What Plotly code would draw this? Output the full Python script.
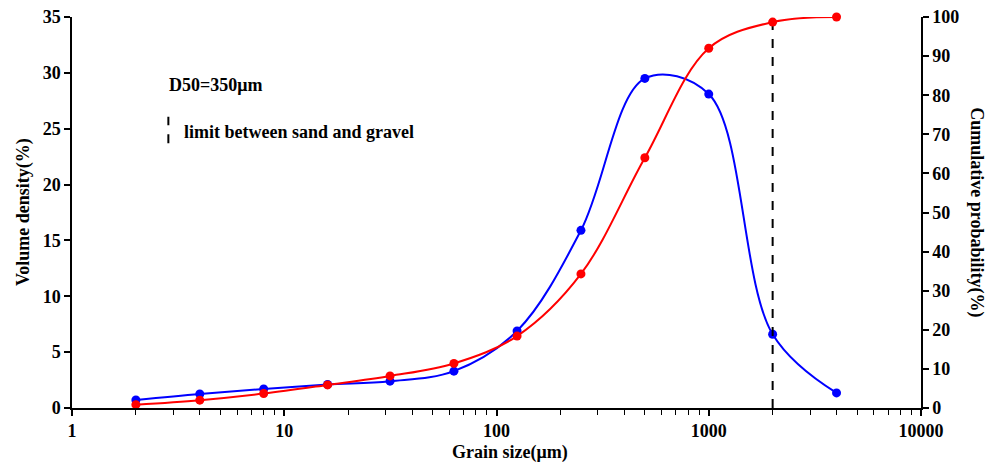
import plotly.graph_objects as go

grain_size = [2, 4, 8, 16, 31.5, 63, 125, 250, 500, 1000, 2000, 4000]
volume_density = [0.72, 1.25, 1.7, 2.1, 2.4, 3.3, 6.9, 15.9, 29.5, 28.1, 6.6, 1.35]
cumulative = [0.85, 2.0, 3.7, 5.9, 8.2, 11.4, 18.4, 34.3, 64.0, 92.0, 98.7, 100.0]
sand_gravel_limit = 2000
x_ticks = [1, 10, 100, 1000, 10000]
x_minor = [m * d for d in (1, 10, 100, 1000) for m in range(2, 10)]
left_ticks = [0, 5, 10, 15, 20, 25, 30, 35]
right_ticks = [0, 10, 20, 30, 40, 50, 60, 70, 80, 90, 100]

FONT = "Liberation Serif"
bold = dict(family=FONT, size=18, color="black", weight="bold")

fig = go.Figure()
fig.add_trace(go.Scatter(x=grain_size, y=cumulative, yaxis="y2", mode="lines+markers",
                         line=dict(color="#ff0000", width=2, shape="spline", smoothing=1.0),
                         marker=dict(color="#ff0000", size=9), showlegend=False, cliponaxis=False))
fig.add_trace(go.Scatter(x=grain_size, y=volume_density, mode="lines+markers",
                         line=dict(color="#0000ff", width=2, shape="spline", smoothing=1.0),
                         marker=dict(color="#0000ff", size=9), showlegend=False, cliponaxis=False))
fig.add_trace(go.Scatter(x=[sand_gravel_limit, sand_gravel_limit], y=[0, 35], mode="lines",
                         line=dict(color="black", width=2, dash="dash"), showlegend=False))

# page body has an 8px margin, so the figure is offset by (8, 8)
fig.update_layout(
    width=989, height=455,
    margin=dict(l=64, r=76, t=9, b=55, autoexpand=False),
    plot_bgcolor="white", paper_bgcolor="white",
    font=bold,
    xaxis=dict(type="log", range=[0, 4], tickvals=x_ticks, ticktext=[str(v) for v in x_ticks],
               showgrid=False, zeroline=False, showline=True, linecolor="black", linewidth=1.5,
               ticks="outside", ticklen=6, tickcolor="black", tickwidth=1.5,
               ticklabeloverflow="allow",
               minor=dict(tickvals=x_minor, ticks="outside", ticklen=5, tickcolor="black",
                          tickwidth=1, showgrid=False),
               tickfont=bold),
    yaxis=dict(range=[0, 35], tickvals=left_ticks, showgrid=False, zeroline=False,
               showline=True, linecolor="black", linewidth=1.5,
               ticks="outside", ticklen=6, tickcolor="black", tickwidth=1.5,
               ticklabeloverflow="allow", tickfont=bold),
    yaxis2=dict(range=[0, 100], tickvals=right_ticks, overlaying="y", side="right",
                showgrid=False, zeroline=False, showline=True, linecolor="black", linewidth=1.5,
                ticks="outside", ticklen=6, tickcolor="black", tickwidth=1.5,
                ticklabeloverflow="allow", tickfont=bold),
)

fig.add_annotation(text="Volume density(%)", xref="paper", yref="paper", x=-0.057, y=0.5,
                   textangle=-90, showarrow=False, font=bold, xanchor="center", yanchor="middle")
fig.add_annotation(text="Cumulative probability(%)", xref="paper", yref="paper", x=1.065, y=0.5,
                   textangle=90, showarrow=False, font=bold, xanchor="center", yanchor="middle")
fig.add_annotation(text="Grain size(μm)", xref="paper", yref="paper", x=0.516, y=-0.113,
                   showarrow=False, font=bold, xanchor="center", yanchor="middle")
fig.add_annotation(text="D50=350μm", xref="paper", yref="paper", x=0.1115, y=0.826,
                   showarrow=False, font=bold, xanchor="left", yanchor="middle")
fig.add_annotation(text="limit between sand and gravel", xref="paper", yref="paper", x=0.1292, y=0.7066,
                   showarrow=False, font=bold, xanchor="left", yanchor="middle")
fig.add_shape(type="line", xref="paper", yref="paper", x0=0.1135, x1=0.1135, y0=0.677, y1=0.745,
              line=dict(color="black", width=2, dash="dash"))

fig.write_html("out.html")
